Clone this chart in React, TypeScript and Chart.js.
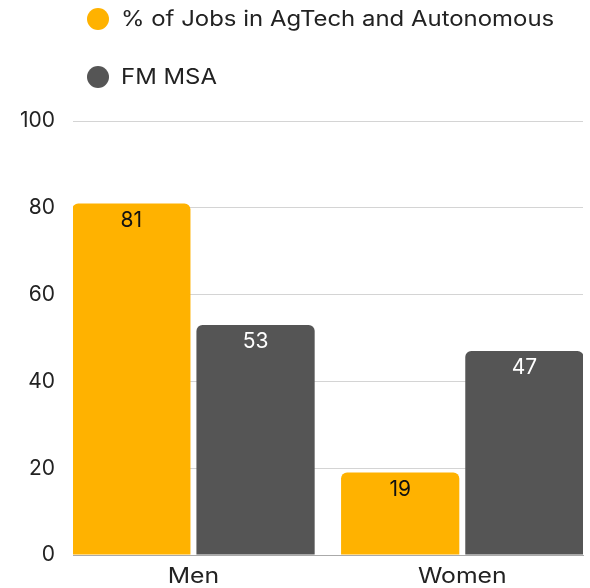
import React, { useEffect, useRef } from "react";
import { Chart, registerables } from "chart.js";

Chart.register(...registerables);

const categories = ["Men", "Women"];
const seriesNames = ["% of Jobs in AgTech and Autonomous", "FM MSA"];
const agtechValues = [81, 19];
const fmMsaValues = [53, 47];
const yTicks = [0, 20, 40, 60, 80, 100];

const YELLOW = "#FFB200";
const GRAY = "#555555";
const FONT = "Inter";
const FSIZE = 21;
const TEXT = "#222222";

const legendPlugin = {
  id: "customLegend",
  afterDraw(chart: any) {
    const ctx = chart.ctx;
    const rows = [19, 77];
    chart.data.datasets.forEach((ds: any, i: number) => {
      const y = rows[i];
      ctx.save();
      ctx.beginPath();
      ctx.arc(98, y, 11, 0, Math.PI * 2);
      ctx.fillStyle = ds.backgroundColor;
      ctx.fill();
      ctx.fillStyle = TEXT;
      ctx.font = `${FSIZE}px ${FONT}`;
      ctx.textAlign = "left";
      ctx.textBaseline = "middle";
      ctx.translate(121, y + 1);
      ctx.scale(1.14, 1);
      ctx.fillText(ds.label, 0, 0);
      ctx.restore();
    });
  },
};

const xLabelPlugin = {
  id: "xLabels",
  afterDraw(chart: any) {
    const ctx = chart.ctx;
    const xs = chart.scales.x;
    categories.forEach((c, i) => {
      ctx.save();
      ctx.fillStyle = TEXT;
      ctx.font = `${FSIZE}px ${FONT}`;
      ctx.textAlign = "center";
      ctx.textBaseline = "middle";
      ctx.translate(xs.getPixelForValue(i), chart.chartArea.bottom + 22);
      ctx.scale(1.18, 1);
      ctx.fillText(c, 0, 0);
      ctx.restore();
    });
  },
};

const valueLabelPlugin = {
  id: "valueLabels",
  afterDatasetsDraw(chart: any) {
    const ctx = chart.ctx;
    ctx.save();
    ctx.font = `${FSIZE}px ${FONT}`;
    ctx.textAlign = "center";
    ctx.textBaseline = "middle";
    chart.data.datasets.forEach((ds: any, i: number) => {
      const meta = chart.getDatasetMeta(i);
      meta.data.forEach((el: any, j: number) => {
        const v = ds.data[j].y;
        ctx.fillStyle = i === 0 ? "#111111" : "#ffffff";
        ctx.fillText(String(v), el.x, el.y + 17);
      });
    });
    ctx.restore();
  },
};

export default function App() {
  const ref = useRef<HTMLCanvasElement>(null);
  useEffect(() => {
    if (!ref.current) return;
    const chart = new Chart(ref.current, {
      type: "bar",
      data: {
        datasets: [
          {
            label: seriesNames[0],
            data: agtechValues.map((v, i) => ({ x: i, y: v })),
            backgroundColor: YELLOW,
            borderRadius: { topLeft: 6, topRight: 6, bottomLeft: 0, bottomRight: 0 },
            borderSkipped: "start",
            categoryPercentage: 0.924,
            barPercentage: 0.952,
          },
          {
            label: seriesNames[1],
            data: fmMsaValues.map((v, i) => ({ x: i, y: v })),
            backgroundColor: GRAY,
            borderRadius: { topLeft: 6, topRight: 6, bottomLeft: 0, bottomRight: 0 },
            borderSkipped: "start",
            categoryPercentage: 0.924,
            barPercentage: 0.952,
          },
        ],
      },
      options: {
        responsive: false,
        animation: false,
        layout: { padding: { top: 121, right: 7, left: 0, bottom: 0 } },
        plugins: {
          legend: { display: false },
          tooltip: { enabled: false },
        },
        scales: {
          x: {
            type: "linear",
            min: -0.448,
            max: 1.449,
            offset: false,
            grid: { display: false, drawTicks: false },
            border: { display: true, color: "#aaaaaa" },
            afterBuildTicks: (scale: any) => {
              scale.ticks = categories.map((_, i) => ({ value: i }));
            },
            afterFit: (scale: any) => {
              scale.height = 33;
            },
            ticks: { display: false, autoSkip: false },
          },
          y: {
            min: 0,
            max: 100,
            afterBuildTicks: (scale: any) => {
              scale.ticks = yTicks.map((v) => ({ value: v }));
            },
            afterFit: (scale: any) => {
              scale.width = 73;
            },
            grid: { color: "#d4d4d4", drawTicks: false },
            border: { display: false },
            ticks: {
              padding: 18,
              color: TEXT,
              font: { family: FONT, size: FSIZE },
            },
          },
        },
      },
      plugins: [legendPlugin, xLabelPlugin, valueLabelPlugin],
    } as any);
    return () => chart.destroy();
  }, []);
  return (
    <div style={{ position: "absolute", left: 0, top: 0, width: 590, height: 588 }}>
      <canvas ref={ref} width={590} height={588} />
    </div>
  );
}
